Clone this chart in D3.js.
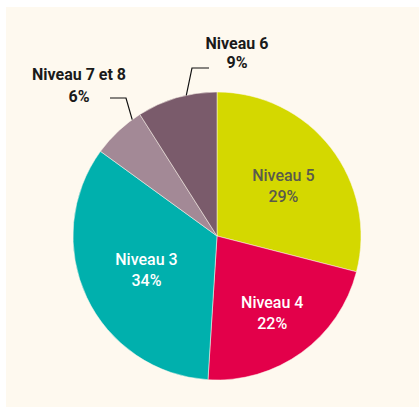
<!DOCTYPE html>
<html>
<head>
<meta charset="utf-8">
<script src="https://cdn.jsdelivr.net/npm/d3@7"></script>
<style>
    html, body { margin: 0; padding: 0; background: #ffffff; }
    svg text { font-family: Roboto, "DejaVu Sans", sans-serif; }
</style>
</head>
<body>
<div id="chart"></div>
<script>
// chart data
const labels = ["Niveau 5", "Niveau 4", "Niveau 3", "Niveau 7 et 8", "Niveau 6"];
const shares = [29, 22, 34, 6, 9];
const colors = ["#d4d800", "#e3004a", "#00b0ad", "#a38996", "#7a5b6b"];

const width = 419, height = 407;
const cx = 217, cy = 236, radius = 144;

let svg = d3.select("#chart").append("svg")
    .attr("width", width)
    .attr("height", height);

// cream panel
svg.append("rect")
    .attr("x", 6).attr("y", 7)
    .attr("width", width - 6).attr("height", height - 7)
    .attr("fill", "#fef9ef");

let pie = d3.pie().sort(null).value(d => d)(shares);
let arc = d3.arc().innerRadius(0).outerRadius(radius);

let g = svg.append("g").attr("transform", `translate(${cx}, ${cy})`);

g.selectAll(".slice")
    .data(pie)
    .enter()
    .append("path")
    .attr("class", "slice")
    .attr("d", arc)
    .attr("fill", (d, i) => colors[i])
    .attr("stroke", "#fef9ef")
    .attr("stroke-width", 0.5);

// labels inside the three big slices
let inside = [
    {i: 0, r: 84, fill: "#5a5a4c"},
    {i: 1, r: 94, fill: "#ffffff"},
    {i: 2, r: 78, fill: "#ffffff"}
];
inside.forEach(o => {
    let p = d3.arc().innerRadius(o.r).outerRadius(o.r).centroid(pie[o.i]);
    let t = g.append("text")
        .attr("text-anchor", "middle")
        .attr("fill", o.fill)
        .attr("font-size", 16)
        .attr("font-weight", 500);
    t.append("tspan").attr("x", p[0]).attr("y", p[1] - 4).text(labels[o.i]);
    t.append("tspan").attr("x", p[0]).attr("y", p[1] + 17).text(shares[o.i] + "%");
});

// labels outside with leader lines
let outside = [
    {i: 4, frac: 0.62, elbow: [192, 68], end: [209, 68], tx: 237, ty: 49, gap: 19},
    {i: 3, frac: 0.83, elbow: [126, 98], end: [110, 98], tx: 79, ty: 80, gap: 22}
];
outside.forEach(o => {
    let d = pie[o.i];
    let a = d.startAngle + (d.endAngle - d.startAngle) * o.frac;
    let sx = cx + radius * Math.sin(a), sy = cy - radius * Math.cos(a);
    svg.append("path")
        .attr("d", d3.line()([[sx, sy], o.elbow, o.end]))
        .attr("fill", "none")
        .attr("stroke", "#111")
        .attr("stroke-width", 1.2);
    let t = svg.append("text")
        .attr("text-anchor", "middle")
        .attr("fill", "#1a1a1a")
        .attr("font-size", 16)
        .attr("font-weight", 700);
    t.append("tspan").attr("x", o.tx).attr("y", o.ty).text(labels[o.i]);
    t.append("tspan").attr("x", o.tx).attr("y", o.ty + o.gap).text(shares[o.i] + "%");
});
</script>
</body>
</html>
